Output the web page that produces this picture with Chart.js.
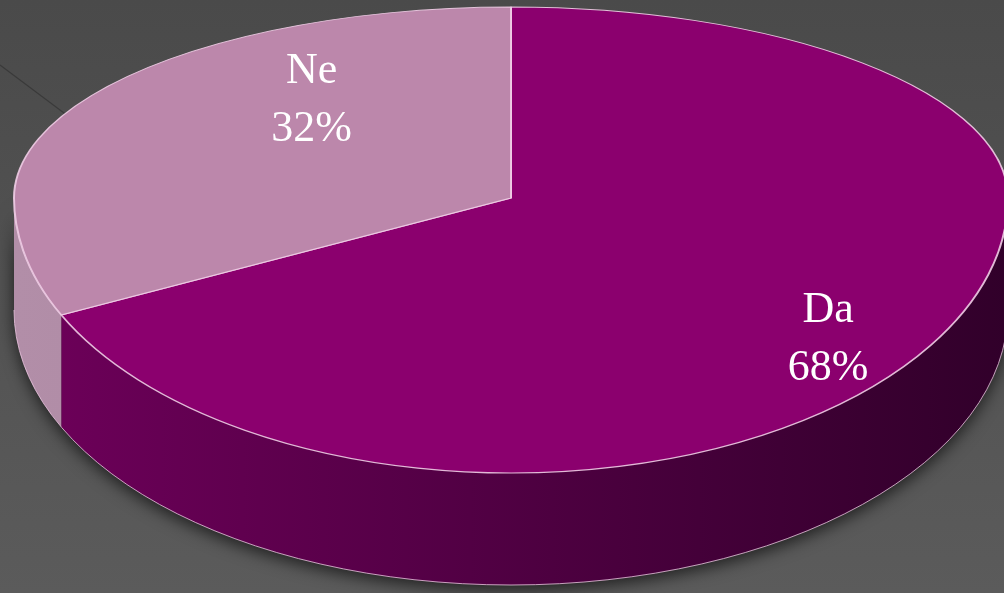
<!DOCTYPE html>
<html>
<head>
<meta charset="utf-8">
<script src="https://cdn.jsdelivr.net/npm/chart.js@4.4.0/dist/chart.umd.min.js"></script>
<style>
    html, body { margin: 0; padding: 0; background: #4b4b4b; }
    #wrap { width: 1004px; height: 593px; position: relative; }
</style>
</head>
<body>
<div id="wrap"><canvas id="pieChart"></canvas></div>
<script>
// ===============================
// Data
// ===============================
const categories = ['Da', 'Ne'];
const shares = [68, 32];

// colours: top face and side (left -> right)
const topColors = ['#8b006e', '#bc87ab'];
const sideColors = [['#6e005a', '#31002a'], ['#b28ea8', '#a07a94']];

// ===============================
// 3D look (rough perspective: far half flatter than near half)
// ===============================
const tiltBack = 191 / 497;
const tiltFront = 275 / 497;
const depth = 112;
const screenCy = 198;      // where the pie centre lands on screen
const labelRadius = [0.82, 0.65];
const labelShift = [6.5, 19.5]; // degrees, per slice

function frontParts(start, end) {
    // parts of [start, end] that fall in the front half [0, PI] (mod 2PI)
    const parts = [];
    for (let k = -1; k <= 1; k++) {
        const lo = Math.max(start, k * 2 * Math.PI);
        const hi = Math.min(end, k * 2 * Math.PI + Math.PI);
        if (hi > lo) parts.push([lo - k * 2 * Math.PI, hi - k * 2 * Math.PI]);
    }
    return parts;
}

function squash(ctx, cy0, tilt) {
    ctx.translate(0, screenCy - cy0 * tilt);
    ctx.scale(1, tilt);
}

const pie3d = {
    id: 'pie3d',
    beforeDraw(chart) {
        const ctx = chart.ctx;
        const w = chart.width, h = chart.height;
        ctx.save();
        const g = ctx.createLinearGradient(0, 0, 0, h);
        g.addColorStop(0, '#4a4a4a');
        g.addColorStop(1, '#5b5b5b');
        ctx.fillStyle = g;
        ctx.fillRect(0, 0, w, h);
        // slide decoration line
        ctx.strokeStyle = '#3a3a3a';
        ctx.lineWidth = 1.2;
        ctx.beginPath();
        ctx.moveTo(0, 65);
        ctx.lineTo(260, 260);
        ctx.stroke();
        ctx.restore();
    },
    beforeDatasetsDraw(chart) {
        const ctx = chart.ctx;
        const meta = chart.getDatasetMeta(0);
        const first = meta.data[0];
        const cx = first.x, cy0 = first.y;
        const rx = first.outerRadius, ry = rx * tiltFront;

        ctx.save();
        // shadow under the whole front wall
        ctx.shadowColor = 'rgba(0,0,0,0.65)';
        ctx.shadowBlur = 16;
        ctx.shadowOffsetY = 5;
        ctx.fillStyle = '#2a0022';
        ctx.beginPath();
        ctx.ellipse(cx, screenCy, rx, ry, 0, 0, Math.PI);
        ctx.ellipse(cx, screenCy + depth, rx, ry, 0, Math.PI, 0, true);
        ctx.closePath();
        ctx.fill();
        ctx.shadowColor = 'transparent';

        // side walls of each slice
        meta.data.forEach((arc, i) => {
            const g = ctx.createLinearGradient(cx - rx, 0, cx + rx, 0);
            g.addColorStop(0, sideColors[i][0]);
            g.addColorStop(1, sideColors[i][1]);
            frontParts(arc.startAngle, arc.endAngle).forEach(([b0, b1]) => {
                ctx.beginPath();
                ctx.ellipse(cx, screenCy, rx, ry, 0, b0, b1);
                ctx.ellipse(cx, screenCy + depth, rx, ry, 0, b1, b0, true);
                ctx.closePath();
                ctx.fillStyle = g;
                ctx.fill();
            });
        });

        // bottom rim
        ctx.strokeStyle = 'rgba(235,200,225,0.8)';
        ctx.lineWidth = 1;
        ctx.beginPath();
        ctx.ellipse(cx, screenCy + depth, rx, ry, 0, 0, Math.PI);
        ctx.stroke();
        ctx.restore();

        // far half of the top face (library draws the arcs here)
        ctx.save();
        ctx.beginPath();
        ctx.rect(0, 0, chart.width, screenCy);
        ctx.clip();
        squash(ctx, cy0, tiltBack);
    },
    afterDatasetsDraw(chart) {
        const ctx = chart.ctx;
        ctx.restore();

        const meta = chart.getDatasetMeta(0);
        const cy0 = meta.data[0].y;

        // near half of the top face: same arc elements, deeper squash
        ctx.save();
        ctx.beginPath();
        ctx.rect(0, screenCy, chart.width, chart.height - screenCy);
        ctx.clip();
        squash(ctx, cy0, tiltFront);
        meta.data.forEach(arc => arc.draw(ctx));
        ctx.restore();

        // labels
        const total = shares.reduce((a, b) => a + b, 0);
        ctx.save();
        ctx.fillStyle = '#ffffff';
        ctx.textAlign = 'center';
        ctx.textBaseline = 'middle';
        ctx.font = '44px "Liberation Serif", "DejaVu Serif", serif';
        meta.data.forEach((arc, i) => {
            const mid = (arc.startAngle + arc.endAngle) / 2 + labelShift[i] * Math.PI / 180;
            const rx = arc.outerRadius;
            const s = Math.sin(mid);
            const x = arc.x + labelRadius[i] * rx * Math.cos(mid);
            const y = screenCy + labelRadius[i] * rx * s * (s < 0 ? tiltBack : tiltFront);
            ctx.fillText(categories[i], x, y - 29);
            ctx.fillText(Math.round(shares[i] / total * 100) + '%', x, y + 29);
        });
        ctx.restore();
    }
};

// ===============================
// Chart
// ===============================
document.addEventListener('DOMContentLoaded', () => {
    const ctx = document.getElementById('pieChart').getContext('2d');
    new Chart(ctx, {
        type: 'pie',
        data: {
            labels: categories,
            datasets: [{
                data: shares,
                backgroundColor: topColors,
                borderColor: 'rgba(240,205,230,0.9)',
                borderWidth: 2,
                radius: 497,
                clip: false
            }]
        },
        options: {
            responsive: true,
            maintainAspectRatio: false,
            animation: false,
            events: [],
            layout: { padding: { left: 18 } },
            plugins: {
                legend: { display: false },
                tooltip: { enabled: false }
            }
        },
        plugins: [pie3d]
    });
});
</script>
</body>
</html>
